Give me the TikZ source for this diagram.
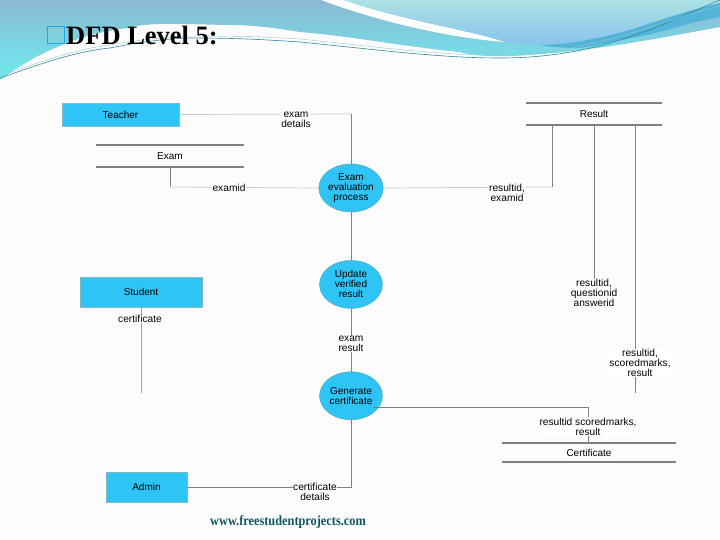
\documentclass[tikz,border=0pt]{standalone}
\usepackage{fontspec}
\setmainfont{Liberation Serif}
\setsansfont{Liberation Sans}
\usetikzlibrary{positioning,shapes.geometric}
\definecolor{boxblue}{HTML}{2EC4F6}
\definecolor{swooshtop}{HTML}{8ABAD3}
\definecolor{swooshlow}{HTML}{6FEBEF}
\definecolor{lighttop}{HTML}{ACE2E4}
\definecolor{lightlow}{HTML}{88C4EC}
\definecolor{bandblue}{HTML}{52B4D8}
\definecolor{teal}{HTML}{2E8C9A}
\definecolor{webteal}{HTML}{0F5662}

\begin{document}
\begin{tikzpicture} [
    x=1pt, y=-1pt,
    process/.style={ellipse, draw=teal!80, fill=boxblue, inner sep=0pt, minimum width=63pt, minimum height=48pt, align=center, font=\sffamily\fontsize{10}{10}\selectfont},
    entity/.style={rectangle, draw=teal!60, fill=boxblue, inner sep=0pt, font=\sffamily\fontsize{10}{10}\selectfont},
    store/.style={rectangle, inner sep=0pt, font=\sffamily\fontsize{10}{10}\selectfont},
    storeline/.style={draw=black!50, line width=1.6pt},
    link/.style={draw=black!50, line width=1pt},
    faint/.style={draw=black!22, line width=.7pt},
    dataflow/.style={fill=white, inner sep=.6pt, align=center, font=\sffamily\fontsize{10.2}{10}\selectfont}
    ]
    \useasboundingbox (0,0) rectangle (720,540);
    \fill[white!99!black] (0,0) rectangle (720,540);
    %Background
    \shade[top color=swooshtop, bottom color=swooshlow]
        (0,0) -- (720,0) -- (720,27)
        .. controls (660,38) and (600,50) .. (530,55)
        .. controls (500,57) and (480,57) .. (459,52)
        .. controls (400,46) and (350,36) .. (300,32)
        .. controls (270,27) and (250,25) .. (227,25)
        .. controls (180,24) and (150,22) .. (127,28)
        .. controls (100,32) and (85,36) .. (67,43)
        .. controls (50,50) and (30,58) .. (0,80) -- cycle;
    \fill[white] (321,0) .. controls (380,22) and (450,38) .. (505,42) .. controls (470,30) and (400,20) .. (344,0) -- cycle;
    \shade[top color=lighttop, bottom color=lightlow]
        (344,0) .. controls (400,20) and (470,30) .. (505,42)
        .. controls (520,44) and (530,45) .. (540,45)
        .. controls (570,45) and (600,38) .. (630,30)
        .. controls (660,20) and (690,10) .. (720,3) -- (720,0) -- cycle;
    \fill[bandblue] (540,45) .. controls (570,45) and (600,38) .. (630,30)
        .. controls (660,20) and (690,10) .. (720,3) -- (720,17)
        .. controls (690,22) and (670,30) .. (647,35)
        .. controls (620,40) and (600,45) .. (580,48) .. controls (565,48) and (550,47) .. (540,45) -- cycle;
    \draw[teal, line width=.6pt] (0,78) .. controls (30,68) and (70,52) .. (110,48)
        .. controls (140,42) and (170,38) .. (193,38)
        .. controls (240,38) and (270,40) .. (300,42)
        .. controls (380,50) and (440,58) .. (500,58)
        .. controls (600,58) and (660,25) .. (720,0);
    \draw[teal!50, line width=.4pt] (0,76) .. controls (30,66) and (70,50) .. (110,45)
        .. controls (140,40) and (170,36) .. (193,36)
        .. controls (240,36) and (270,37) .. (300,39)
        .. controls (380,47) and (440,56) .. (505,55)
        .. controls (600,52) and (660,20) .. (720,6);
    %Nodes
    \node[entity, minimum width=117pt, minimum height=23pt] (teacher) at (120.5,114.5) {Teacher};
    \node[store, minimum width=148pt, minimum height=22pt] (exam) at (170,156) {Exam};
    \node[process] (evaluate) at (351,188) {Exam\\evaluation\\process};
    \node[process] (update) [below=48pt of evaluate] {Update\\verified\\result};
    \node[process] (generate) [below=63pt of update] {Generate\\certificate};
    \node[entity, minimum width=122pt, minimum height=30pt] (student) at (141,292) {Student};
    \node[entity, minimum width=81pt, minimum height=30pt] (admin) at (146.5,487) {Admin};
    \node[store, minimum width=136pt, minimum height=22pt] (result) at (594,114) {Result};
    \node[store, minimum width=174pt, minimum height=19pt] (certstore) at (589,452.5) {Certificate};
    \coordinate (teachercorner) at (351,114);
    \coordinate (examcorner) at (170,187);
    \coordinate (resultcorner) at (552,187);
    \coordinate (admincorner) at (351,487);
    \coordinate (certcorner) at (588,407);
    \coordinate (studentend) at (141,393);
    \coordinate (answerend) at (594,280);
    \coordinate (marksend) at (635.5,393);
    %Lines
    \draw[storeline] (exam.north west) -- (exam.north east);
    \draw[storeline] (exam.south west) -- (exam.south east);
    \draw[storeline] (result.north west) -- (result.north east);
    \draw[storeline] (result.south west) -- (result.south east);
    \draw[storeline] (certstore.north west) -- (certstore.north east);
    \draw[storeline] (certstore.south west) -- (certstore.south east);
    \draw[faint] (teacher.east) -- (teachercorner);
    \draw[link] (teachercorner) -- (evaluate.north);
    \draw[link] (exam.south -| examcorner) -- (examcorner);
    \draw[faint] (examcorner) -- (evaluate.west);
    \draw[link] (result.south -| resultcorner) -- (resultcorner);
    \draw[faint] (resultcorner) -- (evaluate.east);
    \draw[link] (evaluate.south) -- (update.north);
    \draw[link] (update.south) -- (generate.north);
    \draw[link] (generate.south) -- (admincorner) -- (admin.east);
    \draw[link] (generate.south east |- certcorner) -- (certcorner) -- (certstore.north -| certcorner);
    \draw[faint, line width=1pt, draw=black!35] (student.south) -- (studentend);
    \draw[link] (result.south -| answerend) -- (answerend);
    \draw[link] (result.south -| marksend) -- (marksend);
    %Labels
    \node[dataflow] (examdetails) at (296,120) {exam\\details};
    \node[dataflow] (examid) at (229,187.5) {examid};
    \node[dataflow] (resultexam) at (507,193) {resultid,\\examid};
    \node[dataflow] (answers) at (594,293) {resultid,\\questionid\\answerid};
    \node[dataflow] (marks) at (640,363) {resultid,\\scoredmarks,\\result};
    \node[dataflow] (certmarks) at (588,426.5) {resultid scoredmarks,\\result};
    \node[dataflow] (certificate) at (140,319) {certificate};
    \node[dataflow] (examresult) at (351,344) {exam\\result};
    \node[dataflow] (certdetails) at (315,492) {certificate\\details};
    %Title
    \node[draw=cyan!70!teal, line width=1pt, minimum width=17pt, minimum height=17pt, inner sep=0pt] (bullet) at (55.5,35) {};
    \node[font=\fontsize{26.5}{27}\selectfont\bfseries, inner sep=0pt, anchor=west] (title) [right=1.5pt of bullet] {DFD Level 5:};
    \node[font=\fontsize{14}{14}\selectfont\bfseries, text=webteal, inner sep=0pt, xscale=.88] (website) at (288,522) {www.freestudentprojects.com};
\end{tikzpicture}
\end{document}
